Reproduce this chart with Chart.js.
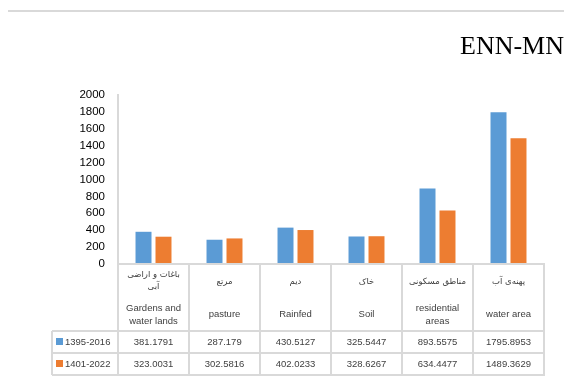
<!DOCTYPE html>
<html>
<head>
<meta charset="utf-8">
<script src="https://cdn.jsdelivr.net/npm/chart.js@4/dist/chart.umd.min.js"></script>
<style>
  html, body { margin: 0; padding: 0; background: #fff; }
  #c { display: block; }
</style>
</head>
<body>
<canvas id="c" width="564" height="382"></canvas>
<script>
// Land-use categories (Persian header lines and English header lines)
const categoriesFa = [["باغات و اراضی", "آبی"], ["مرتع"], ["دیم"], ["خاک"], ["مناطق مسکونی"], ["پهنه‌ی آب"]];
const categoriesEn = [["Gardens and", "water lands"], ["pasture"], ["Rainfed"], ["Soil"], ["residential", "areas"], ["water area"]];
const seriesNames = ["1395-2016", "1401-2022"];
const values2016 = [381.1791, 287.179, 430.5127, 325.5447, 893.5575, 1795.8953];
const values2022 = [323.0031, 302.5816, 402.0233, 328.6267, 634.4477, 1489.3629];
const yTicks = [0, 200, 400, 600, 800, 1000, 1200, 1400, 1600, 1800, 2000];
const chartTitle = "ENN-MN";

const colors = ["#5B9BD5", "#ED7D31"];
const gridColor = "#d9d9d9";
const textColor = "#404040";

// Title, top rule and the data table under the plot
const tablePlugin = {
  id: "dataTable",
  afterDraw(chart) {
    const ctx = chart.ctx;
    const area = chart.chartArea;
    const x = chart.scales.x;
    const n = chart.data.labels.length;
    const w = x.width / n;
    const top = area.bottom;
    const headBottom = top + 67;
    const row1 = headBottom + 22;
    const row2 = row1 + 22;
    const legendLeft = 52;

    ctx.save();
    // top rule
    ctx.strokeStyle = gridColor;
    ctx.lineWidth = 2;
    ctx.beginPath();
    ctx.moveTo(8, 11);
    ctx.lineTo(564, 11);
    ctx.stroke();

    // title
    ctx.fillStyle = "#000";
    ctx.font = '26px "Liberation Serif", "Times New Roman", serif';
    ctx.textAlign = "right";
    ctx.textBaseline = "alphabetic";
    ctx.fillText(chartTitle, 564, 54);

    // table grid
    ctx.strokeStyle = gridColor;
    ctx.lineWidth = 2;
    ctx.beginPath();
    ctx.moveTo(area.left, top);
    ctx.lineTo(area.right + 1, top);
    [headBottom, row1, row2].forEach(y => {
      ctx.moveTo(legendLeft, y);
      ctx.lineTo(area.right + 1, y);
    });
    ctx.moveTo(legendLeft, headBottom);
    ctx.lineTo(legendLeft, row2);
    for (let i = 0; i <= n; i++) {
      const bx = x.getPixelForValue(0) - w / 2 + i * w;
      ctx.moveTo(bx, top);
      ctx.lineTo(bx, row2);
    }
    ctx.stroke();

    ctx.textAlign = "center";
    ctx.textBaseline = "middle";
    for (let i = 0; i < n; i++) {
      const cx = x.getPixelForValue(i);
      // Persian header
      ctx.fillStyle = textColor;
      ctx.font = '8.5px "DejaVu Sans", sans-serif';
      const fa = categoriesFa[i];
      if (fa.length === 1) {
        ctx.fillText(fa[0], cx, top + 18);
      } else {
        ctx.fillText(fa[0], cx, top + 11);
        ctx.fillText(fa[1], cx, top + 23);
      }
      // English header
      ctx.font = '9.5px "Liberation Sans", Arial, sans-serif';
      const en = categoriesEn[i];
      if (en.length === 1) {
        ctx.fillText(en[0], cx, top + 50);
      } else {
        ctx.fillText(en[0], cx, top + 44);
        ctx.fillText(en[1], cx, top + 57);
      }
      // values
      chart.data.datasets.forEach((ds, k) => {
        const cy = headBottom + 11 + k * 22;
        ctx.fillText(String(ds.data[i]), cx, cy);
      });
    }

    // legend keys in the first column
    ctx.textAlign = "left";
    chart.data.datasets.forEach((ds, k) => {
      const cy = headBottom + 11 + k * 22;
      ctx.fillStyle = ds.backgroundColor;
      ctx.fillRect(56, cy - 4, 7, 7);
      ctx.fillStyle = textColor;
      ctx.font = '9.5px "Liberation Sans", Arial, sans-serif';
      ctx.fillText(ds.label, 65, cy);
    });
    ctx.restore();
  }
};

new Chart(document.getElementById("c"), {
  type: "bar",
  data: {
    labels: categoriesEn.map(l => l.join(" ")),
    datasets: [
      { label: seriesNames[0], data: values2016, backgroundColor: colors[0] },
      { label: seriesNames[1], data: values2022, backgroundColor: colors[1] }
    ]
  },
  options: {
    responsive: false,
    animation: false,
    devicePixelRatio: 1,
    layout: { padding: { top: 95, right: 20, bottom: 118, left: 0 } },
    datasets: { bar: { categoryPercentage: 0.563, barPercentage: 0.8 } },
    plugins: { legend: { display: false }, tooltip: { enabled: false } },
    scales: {
      x: { display: false },
      y: {
        min: yTicks[0],
        max: yTicks[yTicks.length - 1],
        afterBuildTicks(scale) { scale.ticks = yTicks.map(v => ({ value: v })); },
        afterFit(scale) { scale.width = 118; },
        grid: { display: false, drawTicks: false },
        border: { display: true, color: gridColor, width: 2 },
        ticks: {
          padding: 13,
          color: "#000",
          callback: v => String(v),
          font: { family: '"Liberation Sans", Arial, sans-serif', size: 11.5 }
        }
      }
    }
  },
  plugins: [tablePlugin]
});
</script>
</body>
</html>
